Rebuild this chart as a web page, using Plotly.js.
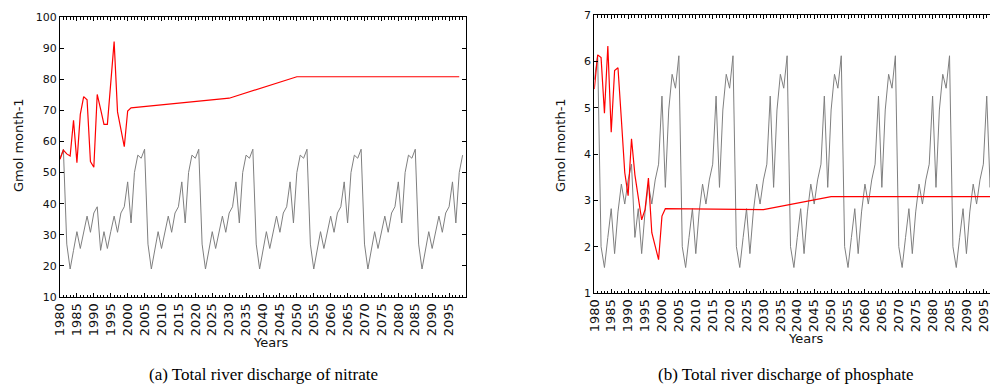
<!DOCTYPE html>
<html>
<head>
<meta charset="utf-8">
<script src="https://cdn.plot.ly/plotly-3.0.1.min.js"></script>
<style>
  html, body { margin: 0; padding: 0; background: #fff; }
  #chart { width: 990px; height: 386px; }
</style>
</head>
<body>
<div id="chart"></div>
<script>
// Climatological river discharge (yearly, 1980-2099), Gmol month-1
const nitrateClim = [
  54.6, 57.5,
  27, 19, 25, 31, 25.6, 31, 36, 30.8, 37, 39,
  25, 31, 25.6, 31, 36, 30.8, 37, 39, 47, 33.8, 50, 55.6, 54.6, 57.5,
  27, 19, 25, 31, 25.6, 31, 36, 30.8, 37, 39, 47, 33.8, 50, 55.6, 54.6, 57.5,
  27, 19, 25, 31, 25.6, 31, 36, 30.8, 37, 39, 47, 33.8, 50, 55.6, 54.6, 57.5,
  27, 19, 25, 31, 25.6, 31, 36, 30.8, 37, 39, 47, 33.8, 50, 55.6, 54.6, 57.5,
  27, 19, 25, 31, 25.6, 31, 36, 30.8, 37, 39, 47, 33.8, 50, 55.6, 54.6, 57.5,
  27, 19, 25, 31, 25.6, 31, 36, 30.8, 37, 39, 47, 33.8, 50, 55.6, 54.6, 57.5,
  27, 19, 25, 31, 25.6, 31, 36, 30.8, 37, 39, 47, 33.8, 50, 55.6
];
const phosphateClim = [
  5.6, 6.12,
  2.0, 1.55, 2.2, 2.82, 1.85, 2.75, 3.35, 2.92, 3.44, 3.78,
  2.2, 2.82, 1.85, 2.75, 3.35, 2.92, 3.44, 3.78, 5.25, 3.28, 4.95, 5.72, 5.42, 6.12,
  2.0, 1.55, 2.2, 2.82, 1.85, 2.75, 3.35, 2.92, 3.44, 3.78, 5.25, 3.28, 4.95, 5.72, 5.42, 6.12,
  2.0, 1.55, 2.2, 2.82, 1.85, 2.75, 3.35, 2.92, 3.44, 3.78, 5.25, 3.28, 4.95, 5.72, 5.42, 6.12,
  2.0, 1.55, 2.2, 2.82, 1.85, 2.75, 3.35, 2.92, 3.44, 3.78, 5.25, 3.28, 4.95, 5.72, 5.42, 6.12,
  2.0, 1.55, 2.2, 2.82, 1.85, 2.75, 3.35, 2.92, 3.44, 3.78, 5.25, 3.28, 4.95, 5.72, 5.42, 6.12,
  2.0, 1.55, 2.2, 2.82, 1.85, 2.75, 3.35, 2.92, 3.44, 3.78, 5.25, 3.28, 4.95, 5.72, 5.42, 6.12,
  2.0, 1.55, 2.2, 2.82, 1.85, 2.75, 3.35, 2.92, 3.44, 3.78, 5.25, 3.28, 4.95, 5.72
];
const climStartYear = 1980;

// Observed/scenario discharge: yearly to 2001, then scenario anchor years
const scenarioYears = [
  1980, 1981, 1982, 1983, 1984, 1985, 1986, 1987, 1988, 1989, 1990,
  1991, 1992, 1993, 1994, 1995, 1996, 1997, 1998, 1999, 2000, 2001,
  2030, 2050, 2098
];
const nitrateScenario = [
  54.3, 57.2, 56, 55.3, 66.8, 53.2, 68.7, 74.4, 73.4, 53.5, 51.7,
  75.1, 70.4, 65.5, 65.5, 78.8, 92.1, 69.5, 64, 58.3, 69.8, 70.8,
  73.9, 80.8, 80.8
];
const phosphateScenario = [
  5.4, 6.14, 6.08, 4.88, 6.33, 4.47, 5.8, 5.86, 4.75, 3.6, 3.1,
  4.33, 3.55, 3.05, 2.58, 2.8, 3.48, 2.3, 2.03, 1.72, 2.66, 2.82,
  2.80, 3.08, 3.08
];

const tickYears = [
  1980, 1985, 1990, 1995, 2000, 2005, 2010, 2015, 2020, 2025, 2030, 2035,
  2040, 2045, 2050, 2055, 2060, 2065, 2070, 2075, 2080, 2085, 2090, 2095
];
const nitrateTicks = [10, 20, 30, 40, 50, 60, 70, 80, 90, 100];
const phosphateTicks = [1, 2, 3, 4, 5, 6, 7];

const yTitle = 'Gmol month-1';
const xTitle = 'Years';
const captionA = '(a) Total river discharge of nitrate';
const captionB = '(b) Total river discharge of phosphate';

// ---- figure geometry (pixels) ----
const W = 990, H = 386;
const px = v => v / W;
const py = v => 1 - v / H;

const GRAY = '#7f7f7f';
const RED = '#ff0000';

const traces = [
  { x0: climStartYear, dx: 1, y: nitrateClim, type: 'scatter', mode: 'lines',
    line: { color: GRAY, width: 1 }, xaxis: 'x', yaxis: 'y', hoverinfo: 'skip' },
  { x: scenarioYears, y: nitrateScenario, type: 'scatter', mode: 'lines',
    line: { color: RED, width: 1.2 }, xaxis: 'x', yaxis: 'y', hoverinfo: 'skip' },
  { x0: climStartYear, dx: 1, y: phosphateClim, type: 'scatter', mode: 'lines',
    line: { color: GRAY, width: 1 }, xaxis: 'x2', yaxis: 'y2', hoverinfo: 'skip' },
  { x: scenarioYears, y: phosphateScenario, type: 'scatter', mode: 'lines',
    line: { color: RED, width: 1.2 }, xaxis: 'x2', yaxis: 'y2', hoverinfo: 'skip' }
];

function xAxis(domain, range, anchor) {
  return {
    domain: domain, range: range, anchor: anchor,
    tickmode: 'array', tickvals: tickYears, ticktext: tickYears.map(String),
    tickangle: -90, tickfont: { family: 'DejaVu Sans', size: 13, color: '#111' },
    ticklabeloverflow: 'allow',
    ticks: 'inside', ticklen: 4, tickwidth: 1, tickcolor: '#000',
    minor: { tick0: 1980, dtick: 1, ticks: 'inside', ticklen: 2.5, tickwidth: 1, tickcolor: '#000', showgrid: false },
    showline: true, linecolor: '#000', linewidth: 1, mirror: 'ticks',
    showgrid: false, zeroline: false, fixedrange: true
  };
}
function yAxis(domain, range, ticks, anchor, mirror) {
  return {
    domain: domain, range: range, anchor: anchor,
    tickmode: 'array', tickvals: ticks, ticktext: ticks.map(String),
    tickfont: { family: 'DejaVu Sans', size: 11, color: '#111' },
    ticks: 'inside', ticklen: 4, tickwidth: 1, tickcolor: '#000',
    showline: true, linecolor: '#000', linewidth: 1, mirror: mirror,
    showgrid: false, zeroline: false, fixedrange: true
  };
}

const titleFont = { family: 'DejaVu Sans', size: 13, color: '#111' };
const capFont = { family: 'Liberation Serif', size: 17, color: '#000' };

const layout = {
  width: W, height: H,
  margin: { l: 0, r: 0, t: 0, b: 0, pad: 0 },
  paper_bgcolor: '#fff', plot_bgcolor: '#fff',
  showlegend: false,
  xaxis: xAxis([px(60), px(466)], [1980, 2100], 'y'),
  yaxis: yAxis([py(297), py(17)], [10, 100], nitrateTicks, 'x', 'ticks'),
  xaxis2: xAxis([px(594.3), 1], [1980, 1980 + (990 - 594.3) / 3.383], 'y2'),
  yaxis2: yAxis([py(293), py(15)], [1, 7], phosphateTicks, 'x2', false),
  annotations: [
    { text: yTitle, textangle: -90, xref: 'paper', yref: 'paper', x: px(18), y: py(145),
      xanchor: 'center', yanchor: 'middle', showarrow: false, font: titleFont },
    { text: yTitle, textangle: -90, xref: 'paper', yref: 'paper', x: px(560), y: py(145),
      xanchor: 'center', yanchor: 'middle', showarrow: false, font: titleFont },
    { text: xTitle, xref: 'paper', yref: 'paper', x: px(270.5), y: py(342),
      xanchor: 'center', yanchor: 'middle', showarrow: false, font: titleFont },
    { text: xTitle, xref: 'paper', yref: 'paper', x: px(806), y: py(338),
      xanchor: 'center', yanchor: 'middle', showarrow: false, font: titleFont },
    { text: captionA, xref: 'paper', yref: 'paper', x: px(263), y: py(374),
      xanchor: 'center', yanchor: 'middle', showarrow: false, font: capFont },
    { text: captionB, xref: 'paper', yref: 'paper', x: px(785.5), y: py(374),
      xanchor: 'center', yanchor: 'middle', showarrow: false, font: capFont }
  ]
};

Plotly.newPlot('chart', traces, layout, { displayModeBar: false, staticPlot: true });
</script>
</body>
</html>
